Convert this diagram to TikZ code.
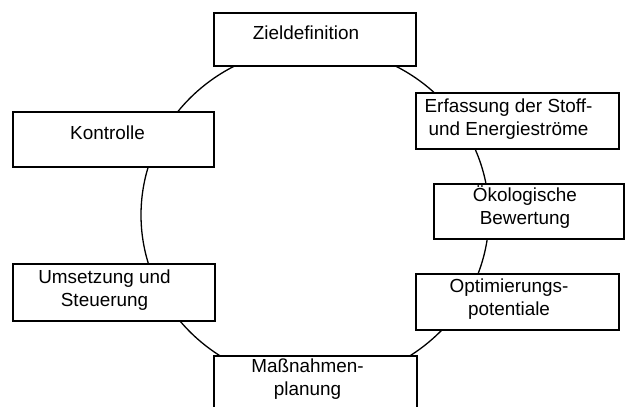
\documentclass[tikz,border=0pt]{standalone}
\usepackage{fontspec}
\setmainfont{Liberation Sans}
\begin{document}
\begin{tikzpicture}[x=1pt,y=-1pt,
  stagebox/.style={draw=black,line width=1.3pt,fill=white,inner sep=0pt,outer sep=0pt},
  stagetext/.style={anchor=base,inner sep=0pt,font=\fontsize{18.9}{23}\selectfont}]
\clip (0,0) rectangle (625,407);
\fill[white] (0,0) rectangle (625,407);
% the cycle behind the stages
\draw[line width=1.3pt] (315,215) ellipse (174 and 168);
% stage frames
\node[stagebox,minimum width=202pt,minimum height=53pt] (ziel) at (315,39.5) {};
\node[stagebox,minimum width=203pt,minimum height=56pt] (erf)  at (517.5,121) {};
\node[stagebox,minimum width=190pt,minimum height=55pt] (oeko) at (529,211.5) {};
\node[stagebox,minimum width=203pt,minimum height=56pt] (opt)  at (517.5,302) {};
\node[stagebox,minimum width=203pt,minimum height=56pt] (mass) at (315.5,384) {};
\node[stagebox,minimum width=202pt,minimum height=57pt] (ums)  at (114,292.5) {};
\node[stagebox,minimum width=201pt,minimum height=55pt] (kon)  at (113.5,139.5) {};
% stage labels
\node[stagetext] (ziel-t) at (306,39.3) {Zieldefinition};
\node[stagetext] (erf-t)  at (508.5,112) {\begin{tabular}[t]{@{}c@{}}Erfassung der Stoff-\\und Energieströme\end{tabular}};
\node[stagetext] (oeko-t) at (525,201.7) {\begin{tabular}[t]{@{}c@{}}Ökologische\\Bewertung\end{tabular}};
\node[stagetext] (opt-t)  at (509,292) {\begin{tabular}[t]{@{}c@{}}Optimierungs-\\potentiale\end{tabular}};
\node[stagetext] (mass-t) at (307.5,372) {\begin{tabular}[t]{@{}c@{}}Maßnahmen-\\planung\end{tabular}};
\node[stagetext] (ums-t)  at (104.5,283) {\begin{tabular}[t]{@{}c@{}}Umsetzung und\\Steuerung\end{tabular}};
\node[stagetext] (kon-t)  at (107.5,139.3) {Kontrolle};
\end{tikzpicture}
\end{document}
